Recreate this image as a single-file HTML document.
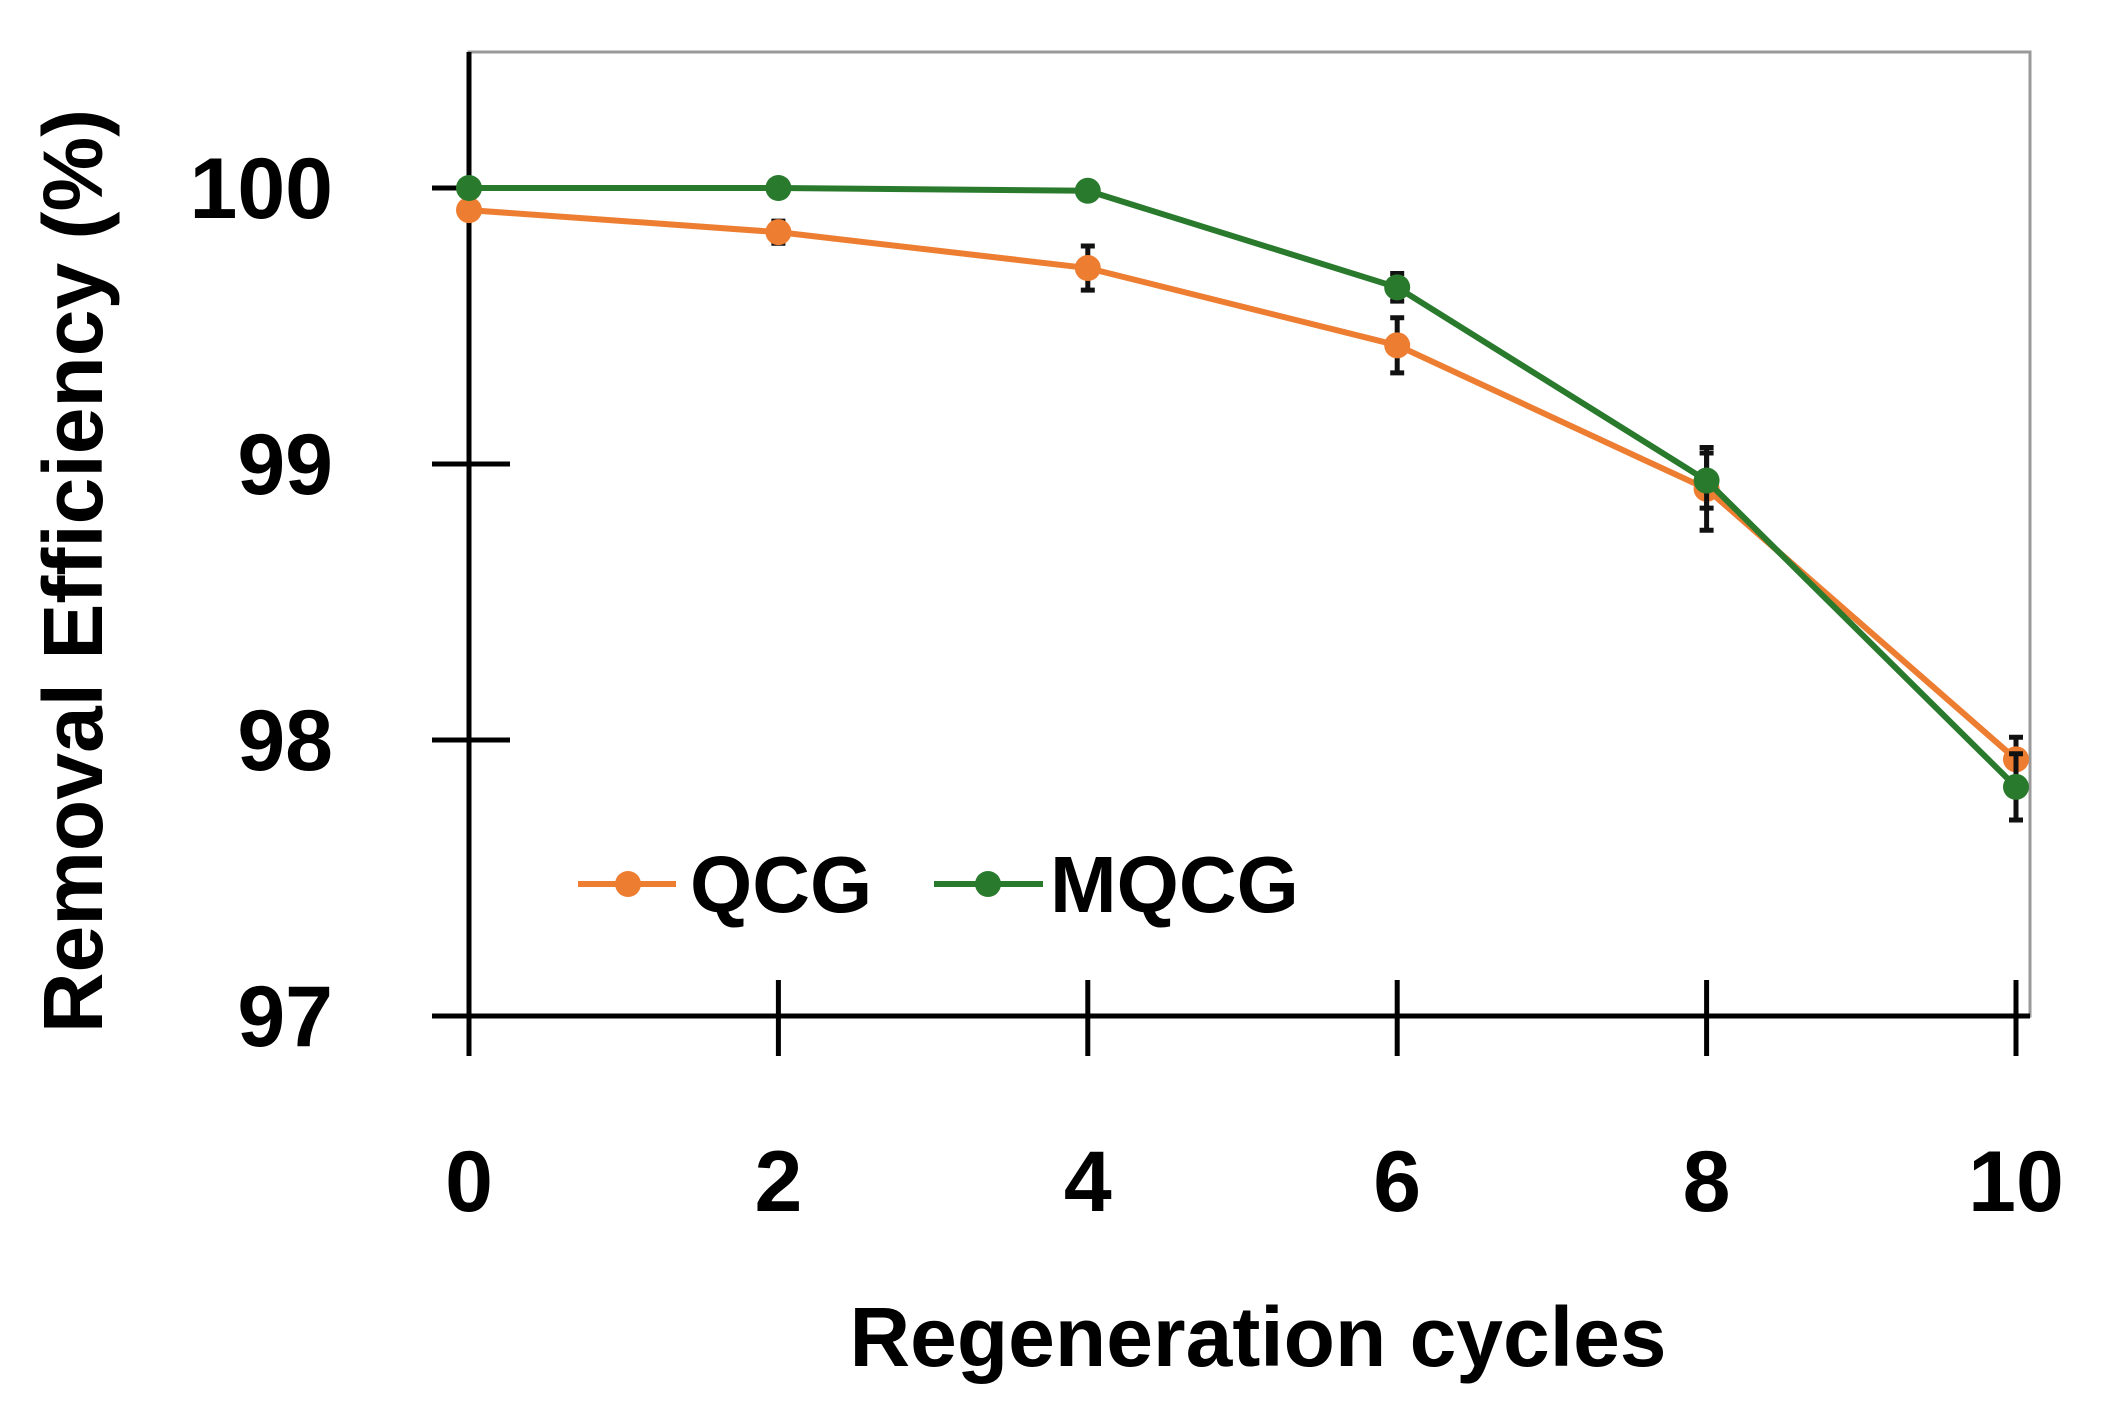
<!DOCTYPE html>
<html><head><meta charset="utf-8"><style>
html,body{margin:0;padding:0;background:#fff;}
svg{display:block;font-family:"Liberation Sans",sans-serif;font-weight:bold;}
</style></head><body>
<svg id="chart" width="2110" height="1416" viewBox="0 0 2110 1416">
<g id="axes"></g><g id="series"></g>
<g>
 <g>
  <line x1="578" y1="884" x2="676" y2="884" stroke="#ED7D31" stroke-width="6"/>
  <circle cx="628" cy="884" r="13" fill="#ED7D31"/>
  <text x="690" y="912" font-size="80" fill="#000">QCG</text>
 </g>
 <g>
  <line x1="934" y1="884" x2="1043" y2="884" stroke="#2A7A2E" stroke-width="6"/>
  <circle cx="988" cy="884" r="13" fill="#2A7A2E"/>
  <text x="1050" y="912" font-size="80" fill="#000">MQCG</text>
 </g>
</g>
<text x="1258" y="1366" font-size="84" text-anchor="middle">Regeneration cycles</text>
<text transform="translate(102,571) rotate(-90)" font-size="84" text-anchor="middle">Removal Efficiency (%)</text>
</svg>
<script>
const cycles=[0,2,4,6,8,10];
const qcg=[99.92,99.84,99.71,99.43,98.91,97.93];
const qcgErr=[0.02,0.04,0.08,0.1,0.15,0.08];
const mqcg=[100.0,100.0,99.99,99.64,98.94,97.83];
const mqcgErr=[0.01,0.01,0.01,0.05,0.1,0.12];
const yTicks=[97,98,99,100];
const xTicks=[0,2,4,6,8,10];
const NS='http://www.w3.org/2000/svg';
const X=v=>469+(v/10)*1547;
const Y=v=>1016-(v-97)*276;
function mk(tag,attrs,parent){const e=document.createElementNS(NS,tag);for(const k in attrs)e.setAttribute(k,attrs[k]);parent.appendChild(e);return e;}
const ax=document.getElementById('axes');
let b=mk('rect',{x:469,y:52,width:1561,height:964,fill:'none',stroke:'#999',"stroke-width":3},ax);


let yl=mk('line',{x1:469,y1:52,x2:469,y2:1056,stroke:'#000',"stroke-width":5},ax);


let xl=mk('line',{x1:432,y1:1016,x2:2030,y2:1016,stroke:'#000',"stroke-width":5},ax);


yTicks.forEach(t=>{
 const y=Y(t);
 let l=mk('line',{x1:432,y1:y,x2:510,y2:y,stroke:'#000',"stroke-width":5},ax);
 
 
 let tx=mk('text',{x:333,y:y+30,"font-size":86,"text-anchor":"end"},ax);
 tx.textContent=t;
 
 
});
xTicks.forEach(t=>{
 const x=X(t);
 let l=mk('line',{x1:x,y1:980,x2:x,y2:1056,stroke:'#000',"stroke-width":5},ax);
 
 
 let tx=mk('text',{x:x,y:1211,"font-size":86,"text-anchor":"middle"},ax);
 tx.textContent=t;
 
 
});
const sg=document.getElementById('series');
function drawSeries(vals,errs,color,name){
 const g=mk('g',{},sg);
 
 
 let p=mk('polyline',{points:cycles.map((c,i)=>X(c)+','+Y(vals[i])).join(' '),fill:'none',stroke:color,"stroke-width":6},g);
 
 
 cycles.forEach((c,i)=>{
  const x=X(c),y1=Y(vals[i]+errs[i]),y2=Y(vals[i]-errs[i]);
  let e=mk('path',{d:`M${x},${y1}V${y2}M${x-7},${y1}H${x+7}M${x-7},${y2}H${x+7}`,stroke:'#111',"stroke-width":5,fill:'none'},g);
  
  
  let m=mk('circle',{cx:x,cy:Y(vals[i]),r:13,fill:color},g);
  
  
 });
}
drawSeries(qcg,qcgErr,'#ED7D31','qcg');
drawSeries(mqcg,mqcgErr,'#2A7A2E','mqcg');
</script>
</body></html>
